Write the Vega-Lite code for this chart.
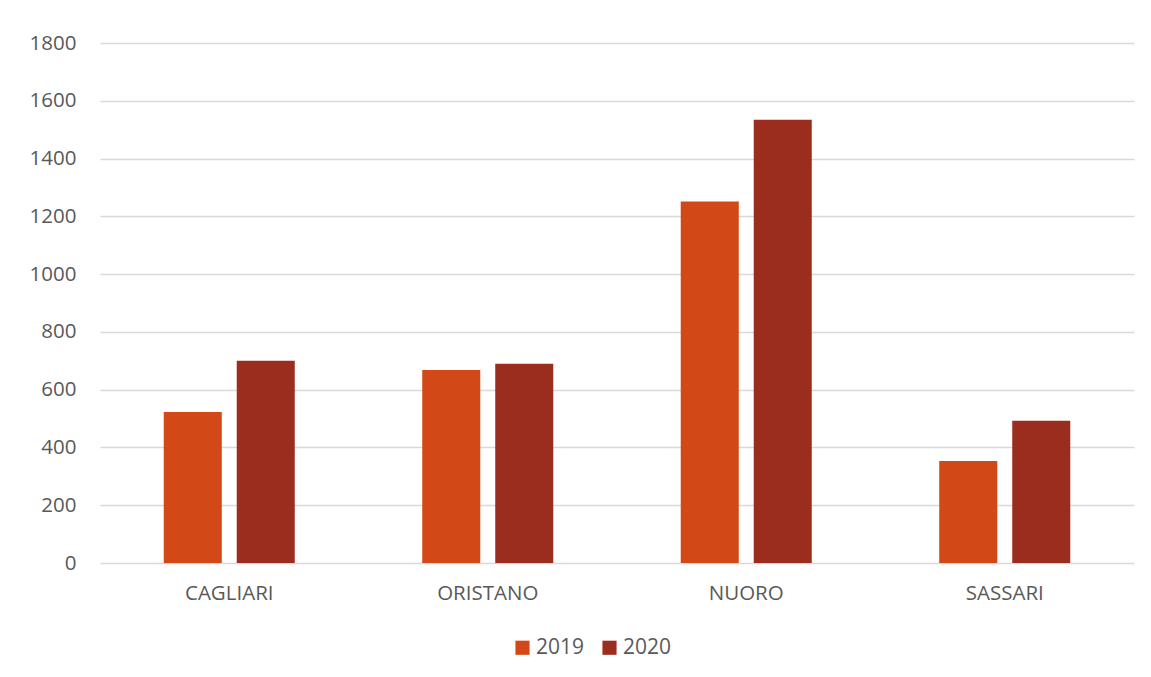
{
  "$schema": "https://vega.github.io/schema/vega-lite/v6.json",
  "autosize": "none",
  "width": 1034,
  "height": 520,
  "padding": {"left": 100, "top": 43, "right": 17, "bottom": 114},
  "background": "white",
  "data": {
    "values": [
      {"provincia": "CAGLIARI", "anno": "2019", "valore": 523},
      {"provincia": "CAGLIARI", "anno": "2020", "valore": 700},
      {"provincia": "ORISTANO", "anno": "2019", "valore": 668},
      {"provincia": "ORISTANO", "anno": "2020", "valore": 690},
      {"provincia": "NUORO", "anno": "2019", "valore": 1251},
      {"provincia": "NUORO", "anno": "2020", "valore": 1534},
      {"provincia": "SASSARI", "anno": "2019", "valore": 353},
      {"provincia": "SASSARI", "anno": "2020", "valore": 492}
    ]
  },
  "mark": {"type": "bar"},
  "encoding": {
    "x": {
      "field": "provincia",
      "type": "nominal",
      "sort": ["CAGLIARI", "ORISTANO", "NUORO", "SASSARI"],
      "scale": {"paddingInner": 0, "paddingOuter": 0},
      "axis": {
        "title": null,
        "labelAngle": 0,
        "domain": false,
        "ticks": false,
        "labelPadding": 20,
        "labelFont": "Open Sans",
        "labelFontSize": 20.5,
        "labelColor": "#595959"
      }
    },
    "xOffset": {
      "field": "anno",
      "type": "nominal",
      "scale": {"paddingInner": 0.205, "paddingOuter": 0.873}
    },
    "y": {
      "field": "valore",
      "type": "quantitative",
      "scale": {"domain": [0, 1800], "nice": false},
      "axis": {
        "title": null,
        "values": [0, 200, 400, 600, 800, 1000, 1200, 1400, 1600, 1800],
        "format": "d",
        "domain": false,
        "ticks": false,
        "labelPadding": 24,
        "labelFont": "Open Sans",
        "labelFontSize": 20.5,
        "labelColor": "#595959",
        "gridColor": "#d9d9d9",
        "gridWidth": 1.5
      }
    },
    "color": {
      "field": "anno",
      "type": "nominal",
      "scale": {"domain": ["2019", "2020"], "range": ["#D34817", "#9B2D1F"]},
      "legend": {
        "title": null,
        "orient": "none",
        "direction": "horizontal",
        "legendX": 412,
        "legendY": 594,
        "symbolType": "square",
        "symbolSize": 200,
        "symbolStrokeWidth": 0,
        "labelFont": "Open Sans",
        "labelFontSize": 21,
        "labelColor": "#595959",
        "columnPadding": 14,
        "labelOffset": 3
      }
    }
  },
  "config": {"view": {"stroke": null}}
}
